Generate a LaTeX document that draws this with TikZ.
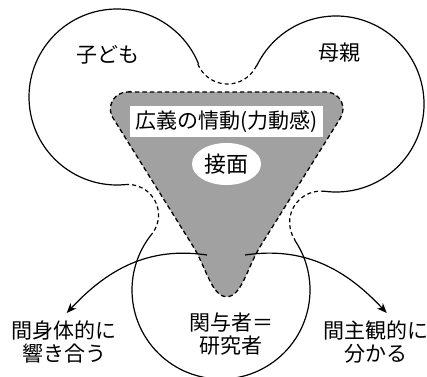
\documentclass[tikz,border=0pt]{standalone}
\usepackage{fontspec}
\setmainfont{Noto Sans CJK JP}
\usetikzlibrary{arrows.meta,shapes.geometric}
\tikzset{
  solidline/.style={line width=1.2pt},
  fillet/.style={line width=1.2pt,dash pattern=on 4pt off 3pt},
  greyshape/.style={fill=black!37,line width=1.3pt,dash pattern=on 4.5pt off 3pt},
  lbl/.style={font=\fontsize{21}{23}\selectfont,align=center,inner sep=0pt},
  arr/.style={line width=1.2pt,-{Stealth[length=10pt,width=8pt]}}
}
\begin{document}
\begin{tikzpicture}[x=1pt,y=1pt]
\useasboundingbox (0,0) rectangle (427,376);
% circle centres and fillet centres
\coordinate (L) at (117,279);
\coordinate (R) at (336,272);
\coordinate (B) at (221,86);
\coordinate (T) at (227.5,324);
\coordinate (LB) at (128,161);
\coordinate (RB) at (321,153.5);
% outline
\draw[solidline] ([shift={(-84.67:88)}]L) arc[start angle=-84.67, end angle=-337.84, radius=88];
\draw[fillet] ([shift={(202.16:32)}]T) arc[start angle=202.16, end angle=334.4, radius=32];
\draw[solidline] ([shift={(154.4:88)}]R) arc[start angle=154.4, end angle=-97.2, radius=88];
\draw[fillet] ([shift={(82.8:31.4)}]RB) arc[start angle=82.8, end angle=214.02, radius=31.4];
\draw[solidline] ([shift={(34.02:89)}]B) arc[start angle=34.02, end angle=-218.88, radius=89];
\draw[fillet] ([shift={(95.33:30.5)}]LB) arc[start angle=95.33, end angle=-38.88, radius=30.5];
% grey funnel
\draw[greyshape] (127.4,284) -- (326,284) arc[start angle=90, end angle=-32, radius=17]
  -- (260.5,130) .. controls (247.25,108.8) and (241.7,79.3) .. (226.7,79.3)
  .. controls (211.7,79.3) and (206.15,108.8) .. (192.9,130)
  -- (113,258) arc[start angle=212, end angle=90, radius=17] -- cycle;
% labels
\node[lbl,fill=white,minimum width=193pt,minimum height=31pt] (emo) at (226.5,254.5) {広義の情動(力動感)};
\node[lbl,ellipse,fill=white,minimum width=69pt,minimum height=42pt,font=\fontsize{22}{24}\selectfont] (face) at (226.5,212) {接面};
\node[lbl] (child) at (108,321) {子ども};
\node[lbl] (mother) at (339,323) {母親};
\node[lbl] (res) at (231,41.5) {関与者＝\\研究者};
\node[lbl] (inter1) at (64,34.4) {間身体的に\\響き合う};
\node[lbl] (inter2) at (376,34.4) {間主観的に\\分かる};
% arrows
\coordinate (ls) at (207,121);
\coordinate (le) at (66.7,63);
\coordinate (rs) at (245,121);
\coordinate (re) at (386.7,63);
\draw[arr] (ls) to[out=171.5,in=47] (le);
\draw[arr] (rs) to[out=8.5,in=133] (re);
\end{tikzpicture}
\end{document}
